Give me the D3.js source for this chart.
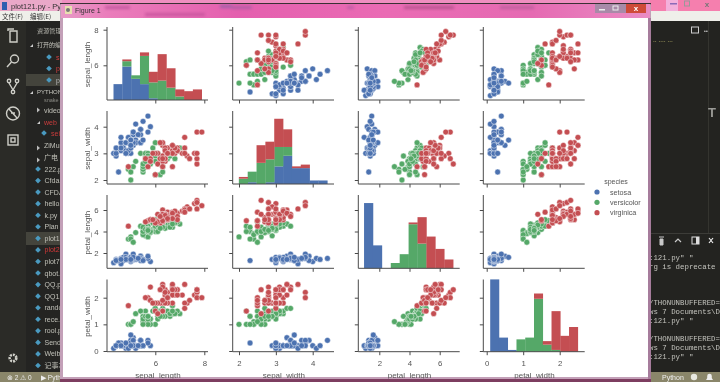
<!DOCTYPE html>
<html><head><meta charset="utf-8">
<script src="https://cdn.jsdelivr.net/npm/d3@7"></script>
<style>
html,body{margin:0;padding:0;background:#232320;overflow:hidden}
svg{display:block;filter:blur(0.35px)}
text{font-family:"Liberation Sans",Arial,sans-serif}
</style></head><body><svg id="c" width="720" height="382"></svg>
<script>
const species = ["setosa","versicolor","virginica"];
const speciesColors = ["#4c72b0","#55a868","#c44e52"];
const variables = ["sepal_length","sepal_width","petal_length","petal_width"];

const setosaSepalLength = [5.1,4.9,4.7,4.6,5.0,5.4,4.6,5.0,4.4,4.9,5.4,4.8,4.8,4.3,5.8,5.7,5.4,5.1,5.7,5.1,5.4,5.1,4.6,5.1,4.8,5.0,5.0,5.2,5.2,4.7,4.8,5.4,5.2,5.5,4.9,5.0,5.5,4.9,4.4,5.1,5.0,4.5,4.4,5.0,5.1,4.8,5.1,4.6,5.3,5.0];
const setosaSepalWidth = [3.5,3.0,3.2,3.1,3.6,3.9,3.4,3.4,2.9,3.1,3.7,3.4,3.0,3.0,4.0,4.4,3.9,3.5,3.8,3.8,3.4,3.7,3.6,3.3,3.4,3.0,3.4,3.5,3.4,3.2,3.1,3.4,4.1,4.2,3.1,3.2,3.5,3.6,3.0,3.4,3.5,2.3,3.2,3.5,3.8,3.0,3.8,3.2,3.7,3.3];
const setosaPetalLength = [1.4,1.4,1.3,1.5,1.4,1.7,1.4,1.5,1.4,1.5,1.5,1.6,1.4,1.1,1.2,1.5,1.3,1.4,1.7,1.5,1.7,1.5,1.0,1.7,1.9,1.6,1.6,1.5,1.4,1.6,1.6,1.5,1.5,1.4,1.5,1.2,1.3,1.4,1.3,1.5,1.3,1.3,1.3,1.6,1.9,1.4,1.6,1.4,1.5,1.4];
const setosaPetalWidth = [0.2,0.2,0.2,0.2,0.2,0.4,0.3,0.2,0.2,0.1,0.2,0.2,0.1,0.1,0.2,0.4,0.4,0.3,0.3,0.3,0.2,0.4,0.2,0.5,0.2,0.2,0.4,0.2,0.2,0.2,0.2,0.4,0.1,0.2,0.2,0.2,0.2,0.1,0.2,0.2,0.3,0.3,0.2,0.6,0.4,0.3,0.2,0.2,0.2,0.2];
const versicolorSepalLength = [7.0,6.4,6.9,5.5,6.5,5.7,6.3,4.9,6.6,5.2,5.0,5.9,6.0,6.1,5.6,6.7,5.6,5.8,6.2,5.6,5.9,6.1,6.3,6.1,6.4,6.6,6.8,6.7,6.0,5.7,5.5,5.5,5.8,6.0,5.4,6.0,6.7,6.3,5.6,5.5,5.5,6.1,5.8,5.0,5.6,5.7,5.7,6.2,5.1,5.7];
const versicolorSepalWidth = [3.2,3.2,3.1,2.3,2.8,2.8,3.3,2.4,2.9,2.7,2.0,3.0,2.2,2.9,2.9,3.1,3.0,2.7,2.2,2.5,3.2,2.8,2.5,2.8,2.9,3.0,2.8,3.0,2.9,2.6,2.4,2.4,2.7,2.7,3.0,3.4,3.1,2.3,3.0,2.5,2.6,3.0,2.6,2.3,2.7,3.0,2.9,2.9,2.5,2.8];
const versicolorPetalLength = [4.7,4.5,4.9,4.0,4.6,4.5,4.7,3.3,4.6,3.9,3.5,4.2,4.0,4.7,3.6,4.4,4.5,4.1,4.5,3.9,4.8,4.0,4.9,4.7,4.3,4.4,4.8,5.0,4.5,3.5,3.8,3.7,3.9,5.1,4.5,4.5,4.7,4.4,4.1,4.0,4.4,4.6,4.0,3.3,4.2,4.2,4.2,4.3,3.0,4.1];
const versicolorPetalWidth = [1.4,1.5,1.5,1.3,1.5,1.3,1.6,1.0,1.3,1.4,1.0,1.5,1.0,1.4,1.3,1.4,1.5,1.0,1.5,1.1,1.8,1.3,1.5,1.2,1.3,1.4,1.4,1.7,1.5,1.0,1.1,1.0,1.2,1.6,1.5,1.6,1.5,1.3,1.3,1.3,1.2,1.4,1.2,1.0,1.3,1.2,1.3,1.3,1.1,1.3];
const virginicaSepalLength = [6.3,5.8,7.1,6.3,6.5,7.6,4.9,7.3,6.7,7.2,6.5,6.4,6.8,5.7,5.8,6.4,6.5,7.7,7.7,6.0,6.9,5.6,7.7,6.3,6.7,7.2,6.2,6.1,6.4,7.2,7.4,7.9,6.4,6.3,6.1,7.7,6.3,6.4,6.0,6.9,6.7,6.9,5.8,6.8,6.7,6.7,6.3,6.5,6.2,5.9];
const virginicaSepalWidth = [3.3,2.7,3.0,2.9,3.0,3.0,2.5,2.9,2.5,3.6,3.2,2.7,3.0,2.5,2.8,3.2,3.0,3.8,2.6,2.2,3.2,2.8,2.8,2.7,3.3,3.2,2.8,3.0,2.8,3.0,2.8,3.8,2.8,2.8,2.6,3.0,3.4,3.1,3.0,3.1,3.1,3.1,2.7,3.2,3.3,3.0,2.5,3.0,3.4,3.0];
const virginicaPetalLength = [6.0,5.1,5.9,5.6,5.8,6.6,4.5,6.3,5.8,6.1,5.1,5.3,5.5,5.0,5.1,5.3,5.5,6.7,6.9,5.0,5.7,4.9,6.7,4.9,5.7,6.0,4.8,4.9,5.6,5.8,6.1,6.4,5.6,5.1,5.6,6.1,5.6,5.5,4.8,5.4,5.6,5.1,5.1,5.9,5.7,5.2,5.0,5.2,5.4,5.1];
const virginicaPetalWidth = [2.5,1.9,2.1,1.8,2.2,2.1,1.7,1.8,1.8,2.5,2.0,1.9,2.1,2.0,2.4,2.3,1.8,2.2,2.3,1.5,2.3,2.0,2.0,1.8,2.1,1.8,1.8,1.8,2.1,1.6,1.9,2.0,2.2,1.5,1.4,2.3,2.4,1.8,1.8,2.1,2.4,2.3,1.9,2.3,2.5,2.3,1.9,2.0,2.3,1.8];

const xTicks = [[6,8],[2,3,4],[2,4,6],[0,1,2]];
const yTicks = [[6,8],[2,3,4],[2,4,6],[0,1,2]];
const sidebarFiles = ["222.py","Cfda.py","CFDA","hello.py","k.py","Plan","plot1.py","plot2.py","plot7.py","qbot.py","QQ.py","QQ1.py","rando.py","rece.py","rool.py","Send.py","Weib.py","记事本"];
const terminalLines = [':121.py" "','rg is deprecate','','','','/THONUNBUFFERED=','ws 7 Documents\\D',':121.py" "','','/THONUNBUFFERED=','ws 7 Documents\\D',':121.py" "'];

const svg = d3.select("#c");
const rect=(g,x,y,w,h,f,o)=>g.append("rect").attr("x",x).attr("y",y).attr("width",w).attr("height",h).attr("fill",f).attr("opacity",o==null?1:o);
const txt=(g,x,y,s,size,f,a,fam)=>{const t=g.append("text").attr("x",x).attr("y",y).text(s).attr("font-size",size).attr("fill",f).attr("text-anchor",a||"start");if(fam)t.style("font-family",fam);return t;};

/* ---------- desktop behind the figure window ---------- */
const bg = svg.append("g");
const defs = svg.append("defs");
const tg = defs.append("linearGradient").attr("id","tbar");
[[0,"#e79ac6"],[.08,"#ea7dbb"],[.3,"#e45fae"],[.55,"#ea6bb4"],[.8,"#e56ab2"],[1,"#ea8cc4"]].forEach(d=>tg.append("stop").attr("offset",d[0]).attr("stop-color",d[1]));
const blur = defs.append("filter").attr("id","soft"); blur.append("feGaussianBlur").attr("stdDeviation",1.4);

rect(bg,0,0,720,382,"#232320");
rect(bg,0,0,720,11,"#ef8fc0");
rect(bg,650,0,70,11,"#f57fae");
rect(bg,666,0,12,11,"#f3b0dc");
rect(bg,0,0,62,11,"#e9a8c8");
rect(bg,0,11,720,10,"#efefea");
rect(bg,0,21,26,351,"#2b2b27");
rect(bg,26,21,36,351,"#242422");
rect(bg,26,74,36,12,"#44443c");
rect(bg,26,232,36,13,"#44443c");
rect(bg,0,372,720,10,"#8a866a");
rect(bg,2,2,5,8,"#2f5fb0");
txt(bg,11,8.5,"plot121.py - Pyt",7.5,"#333");
txt(bg,2,19,"文件(F)",6.5,"#333").style("font-family","Noto Sans CJK SC");
txt(bg,30,19,"编辑(E)",6.5,"#333").style("font-family","Noto Sans CJK SC");
/* outer window buttons */
rect(bg,670,3,7,1.5,"#8a6ab8");
bg.append("rect").attr("x",684.5).attr("y",1).attr("width",5).attr("height",5).attr("fill","none").attr("stroke","#999");
txt(bg,707,7,"x",8,"#777","middle").attr("font-weight","bold");

/* activity bar icons */
const ic = bg.append("g").attr("fill","none").attr("stroke","#cfcfc8").attr("stroke-width",1.4);
ic.append("path").attr("d","M10 31h7v11h-7zM8 31v-2h6");
ic.append("circle").attr("cx",14.5).attr("cy",59).attr("r",4);
ic.append("path").attr("d","M11.5 62l-4.5 5");
ic.append("circle").attr("cx",9).attr("cy",81).attr("r",1.7);
ic.append("circle").attr("cx",17).attr("cy",81).attr("r",1.7);
ic.append("circle").attr("cx",13).attr("cy",92).attr("r",1.7);
ic.append("path").attr("d","M9 83l4 7M17 83l-4 7");
ic.append("circle").attr("cx",13).attr("cy",113.5).attr("r",6.5);
ic.append("path").attr("d","M9 109l8 9M11 113h4");
ic.append("rect").attr("x",8).attr("y",135).attr("width",10).attr("height",10);
ic.append("rect").attr("x",11).attr("y",138).attr("width",4).attr("height",4);
ic.append("circle").attr("cx",13).attr("cy",358).attr("r",3.3).attr("stroke-width",2.6).attr("stroke-dasharray","2 1");

/* sidebar */
const sb = bg.append("g");
const diamond=(x,y)=>sb.append("path").attr("d",d3.symbol(d3.symbolSquare,16)()).attr("transform",`translate(${x},${y}) rotate(45)`).attr("fill","#4a9ac0");
const cjk='"Noto Sans CJK SC"';
txt(sb,37,33,"资源管理器",6.2,"#b8b8b0",null,cjk);
txt(sb,37,47,"打开的编辑器",6,"#c8c8c0",null,cjk);
sb.append("path").attr("d","M30 47l3-3v3z").attr("fill","#ccc");
[[49,57],[49,68.5],[49,80]].forEach(p=>diamond(p[0],p[1]));
txt(sb,56,60,"s",7,"#d04040"); txt(sb,56,71,"p",7,"#d04040"); txt(sb,56,83,"p",7,"#bbb");
sb.append("path").attr("d","M30 94l3-3v3z").attr("fill","#ccc");
txt(sb,37,94,"PYTHON",6,"#c8c8c0");
txt(sb,44,101.5,"snake",5.5,"#8a8a84");
txt(sb,44,113,"video",7,"#c0c0b8");
txt(sb,44,125,"web",7,"#c83c3c");
diamond(44,133); txt(sb,51,136,"sei",7,"#c83c3c");
txt(sb,44,148,"ZiMu",7,"#c0c0b8");
txt(sb,44,160,"广电",7,"#c0c0b8",null,cjk);
[[38,110],[38,148],[38,160]].forEach(p=>sb.append("path").attr("d",`M${p[0]-1} ${p[1]-2.5}l3 2.5l-3 2.5z`).attr("fill","#bbb"));
sb.append("path").attr("d","M37 124l3-3v3z").attr("fill","#ccc");
const fileY = d3.scaleLinear().domain([0,17]).range([169,365.5]);
sidebarFiles.forEach((s,i)=>{
  diamond(38,fileY(i));
  txt(sb,44.5,fileY(i)+2.5,s,7,s==="plot2.py"?"#d03838":"#c0c0b8",null,s==="记事本"?cjk:null);
});

/* status bar */
txt(bg,7,380,"⊗ 2  ⚠ 0",6.5,"#eee");
txt(bg,41,380,"▶ Pyth",6.5,"#eee");
txt(bg,662,380,"Python",7,"#eee");
bg.append("circle").attr("cx",694).attr("cy",377).attr("r",3.2).attr("fill","#e8e8e0");
bg.append("path").attr("d","M706 380h7l-1.2-2v-2a2.3 2.3 0 0 0-4.6 0v2z").attr("fill","#eee");

/* right side: editor + terminal */
const rs = bg.append("g");
rs.append("rect").attr("x",691.5).attr("y",27).attr("width",7).attr("height",6).attr("fill","none").attr("stroke","#ccc");
txt(rs,704,33,"•••",4.5,"#ccc");
txt(rs,653,42,"-- ---- ---",3,"#c8c070",null,'"Liberation Mono"');
txt(rs,653,45,"--- ------ ---------------",2.5,"#b0b070",null,'"Liberation Mono"');
txt(rs,653,48,"--------- ---------",2.5,"#a8b080",null,'"Liberation Mono"');
rect(rs,708,21,1,212,"#34342f");
rect(rs,650,233,70,1,"#3c3c38");
txt(rs,708,117,"T",13,"#9a9a96").attr("font-weight","bold");
rs.append("path").attr("d","M659 237h5M660 239h3v6h-3z").attr("stroke","#c8c8c8").attr("fill","#c8c8c8");
rs.append("path").attr("d","M675 242l3-3l3 3").attr("stroke","#ccc").attr("fill","none").attr("stroke-width",1.2);
rs.append("rect").attr("x",692).attr("y",237).attr("width",7).attr("height",7).attr("fill","none").attr("stroke","#ddd");
rect(rs,696,237,3,7,"#ddd");
rs.append("path").attr("d","M709 238l4 5M713 238l-4 5").attr("stroke","#eee").attr("stroke-width",1.2);
const termY = d3.scaleLinear().domain([0,11]).range([260,359]);
terminalLines.forEach((s,i)=>{ if(s) txt(rs,649,termY(i),s,7.4,"#c4c4be",null,'"Liberation Mono"'); });

/* ---------- figure window ---------- */
const win = svg.append("g");
rect(win,60,3,591,378,"#c3a0b8");
rect(win,60,379,591,3,"#7d3e60");
rect(win,648,18,3,361,"#a67c9c");
rect(win,60,3,591,1.2,"#3a3034");
rect(win,61,4,589,14,"url(#tbar)");
/* blurred patches of glass behind the title bar */
const glass = win.append("g").attr("filter","url(#soft)");
[[105,6,25,"#c45aa0"],[145,13,60,"#c9559e"],[220,5,12,"#a060a8"],[232,6,20,"#b25fa5"],[347,6,7,"#c05da5"],[404,6,50,"#b8558f"],[500,6,34,"#c0609e"]].forEach(d=>rect(glass,d[0],d[1],d[2],3,d[3]));
rect(win,595,4,31,9,"#a88aa8");
rect(win,626,4,20,9,"#cf4a38");
rect(win,599,9,6,1.5,"#eee");
win.append("rect").attr("x",613).attr("y",6).attr("width",5).attr("height",4).attr("fill","none").attr("stroke","#eee");
txt(win,636,11,"x",8,"#fff","middle").attr("font-weight","bold");
rect(win,65,6,7,8,"#e8e0b0");
win.append("circle").attr("cx",68).attr("cy",10).attr("r",2).attr("fill","#777");
txt(win,75,13,"Figure 1",7,"#333");
rect(win,63,18,585,359,"#ffffff");

/* ---------- pair grid ---------- */
const clipBox = defs.append("clipPath").attr("id","figclip");
clipBox.append("rect").attr("x",63).attr("y",18).attr("width",585).attr("height",360.5);
const fig = svg.append("g").attr("clip-path","url(#figclip)");

const values = [
  [setosaSepalLength,setosaSepalWidth,setosaPetalLength,setosaPetalWidth],
  [versicolorSepalLength,versicolorSepalWidth,versicolorPetalLength,versicolorPetalWidth],
  [virginicaSepalLength,virginicaSepalWidth,virginicaPetalLength,virginicaPetalWidth]
];
const colBox = [[107,208],[232.7,334],[358.3,459.7],[483.3,584.7]];
const rowBox = [[27,100],[111,184],[195,268.3],[279.5,351.7]];
const xS = [
  d3.scaleLinear().domain([6,8]).range([155.3,204.3]),
  d3.scaleLinear().domain([2,4]).range([239,312.7]),
  d3.scaleLinear().domain([2,6]).range([379.3,439.7]),
  d3.scaleLinear().domain([0,2]).range([486.7,559.7])
];
const yS = [
  d3.scaleLinear().domain([6,8]).range([65.3,29.7]),
  d3.scaleLinear().domain([2,4]).range([180,126.7]),
  d3.scaleLinear().domain([2,6]).range([253,210]),
  d3.scaleLinear().domain([0,2]).range([351,297.7])
];
const ink = "#4a4a4a", label = "#555";

for (let r=0;r<4;r++) for (let c=0;c<4;c++){
  const g = fig.append("g");
  if (r===c){
    const all = values.flatMap(v=>v[c]);
    const [lo,hi] = d3.extent(all);
    const w = (hi-lo)/10;
    const edges = d3.range(11).map(i=>lo+i*w);
    const binner = d3.bin().domain([lo,hi]).thresholds(edges.slice(1,10));
    const cnt = d3.scaleLinear().domain([0,41]).range([rowBox[r][1],rowBox[r][1]-72.3]);
    const base = new Array(10).fill(0);
    values.forEach((v,k)=>{
      const n = binner(v[c]).map(b=>b.length);
      n.forEach((d,i)=>{
        if(d>0) g.append("rect").attr("x",xS[c](edges[i])-.15).attr("width",xS[c](edges[i+1])-xS[c](edges[i])+.3)
          .attr("y",cnt(base[i]+d)).attr("height",cnt(base[i])-cnt(base[i]+d)).attr("fill",speciesColors[k]);
      });
      n.forEach((d,i)=>base[i]+=d);
    });
  } else {
    values.forEach((v,k)=>{
      g.selectAll(null).data(v[c].map((x,i)=>[x,v[r][i]])).join("circle")
        .attr("cx",d=>xS[c](d[0])).attr("cy",d=>yS[r](d[1])).attr("r",2.9)
        .attr("fill",speciesColors[k]).attr("stroke","#fff").attr("stroke-width",.45);
    });
  }
  /* spines */
  const ax = g.append("g").attr("stroke",ink).attr("stroke-width",1);
  ax.append("line").attr("x1",colBox[c][0]).attr("x2",colBox[c][0]).attr("y1",rowBox[r][0]).attr("y2",rowBox[r][1]);
  ax.append("line").attr("x1",colBox[c][0]).attr("x2",colBox[c][1]).attr("y1",rowBox[r][1]).attr("y2",rowBox[r][1]);
  const left = d3.axisLeft(yS[r]).tickValues(yTicks[r]).tickFormat(d3.format("d")).tickSize(3.5).tickPadding(5);
  const bottom = d3.axisBottom(xS[c]).tickValues(xTicks[c]).tickFormat(d3.format("d")).tickSize(3.5).tickPadding(4);
  const la = g.append("g").attr("transform",`translate(${colBox[c][0]},0)`).call(left);
  const ba = g.append("g").attr("transform",`translate(0,${rowBox[r][1]})`).call(bottom);
  [la,ba].forEach(a=>{a.select(".domain").remove();a.selectAll("line").attr("stroke",ink);a.selectAll("text").attr("fill",label).attr("font-size",7.8).style("font-family",'"Liberation Sans"');});
  ba.selectAll("text").attr("dy","0.9em");
  if(c!==0) la.selectAll("text").remove();
  if(r!==3) ba.selectAll("text").remove();
  if(c===0){
    const my=(rowBox[r][0]+rowBox[r][1])/2;
    g.append("text").attr("transform",`translate(89.5,${my+1}) rotate(-90)`).attr("text-anchor","middle").attr("font-size",8).attr("fill",label).text(variables[r]);
  }
  if(r===3){
    g.append("text").attr("x",(colBox[c][0]+colBox[c][1])/2+.5).attr("y",378).attr("text-anchor","middle").attr("font-size",8).attr("fill",label).text(variables[c]);
  }
}

/* legend */
const leg = fig.append("g");
txt(leg,616,183.5,"species",7,label,"middle");
const legendY = d3.scalePoint().domain(species).range([192,212.7]);
species.forEach((s,i)=>{
  leg.append("circle").attr("cx",597).attr("cy",legendY(s)).attr("r",2.6).attr("fill",speciesColors[i]);
  txt(leg,610,legendY(s)+2.6,s,7.2,label);
});
</script></body></html>
